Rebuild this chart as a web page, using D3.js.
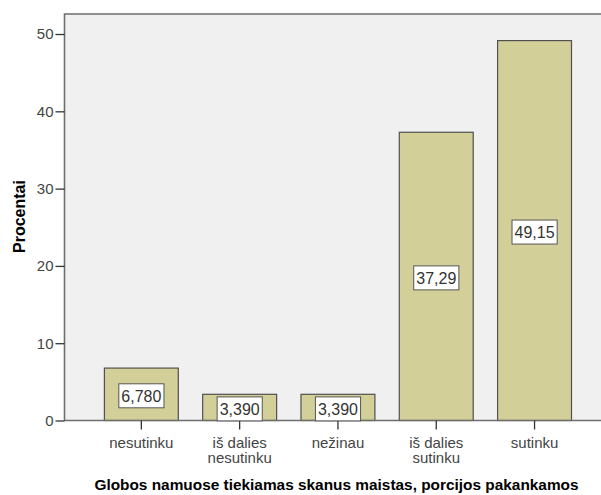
<!DOCTYPE html>
<html><head><meta charset="utf-8">
<script src="https://cdn.jsdelivr.net/npm/d3@7"></script>
<style>body{margin:0;background:#fff}svg{display:block}text{font-family:Arial,"Liberation Sans",sans-serif}</style>
</head><body>
<svg id="c" width="601" height="495"></svg>
<script>
const categories = [["nesutinku"], ["iš dalies", "nesutinku"], ["nežinau"], ["iš dalies", "sutinku"], ["sutinku"]];
const values = [6.78, 3.39, 3.39, 37.29, 49.15];
const valueLabels = ["6,780", "3,390", "3,390", "37,29", "49,15"];
const yTicks = [0, 10, 20, 30, 40, 50];
const xTitle = "Globos namuose tiekiamas skanus maistas, porcijos pakankamos";
const yTitle = "Procentai";

const svg = d3.select("#c");
const L = 64.5, R = 601, T = 14, B = 420.5;
const keys = categories.map(c => c.join(" "));
const x = d3.scaleBand().domain(keys).range([92.2, 583.7]).paddingInner(0.248).paddingOuter(0.124);
const y = d3.scaleLinear().domain([0, 52.59]).range([B, T]);

svg.append("rect").attr("x", L).attr("y", T).attr("width", R - L).attr("height", B - T).attr("fill", "#f0f0f0");

svg.selectAll("rect.bar").data(values).join("rect").attr("class", "bar")
  .attr("x", (d, i) => x(keys[i])).attr("width", x.bandwidth())
  .attr("y", d => y(d)).attr("height", d => y(0) - y(d))
  .attr("fill", "#d3cf98").attr("stroke", "#505050").attr("stroke-width", 1.2);

// frame
svg.append("path").attr("d", `M${R},${T}H${L}V${B}H${R}`).attr("fill", "none").attr("stroke", "#6e6e6e").attr("stroke-width", 1.6);

// y axis
const ya = svg.append("g").attr("transform", `translate(${L},0)`)
  .call(d3.axisLeft(y).tickValues(yTicks).tickSize(9).tickPadding(2).tickFormat(d3.format("d")));
ya.select(".domain").remove();
ya.selectAll("line").attr("stroke", "#333").attr("stroke-width", 1.3);
ya.selectAll("text").attr("font-size", 15).attr("fill", "#444").attr("font-family", "Arial, 'Liberation Sans', sans-serif");

// x axis
const xa = svg.append("g").attr("transform", `translate(0,${B})`)
  .call(d3.axisBottom(x).tickSize(9).tickFormat(""));
xa.select(".domain").remove();
xa.selectAll("line").attr("stroke", "#333").attr("stroke-width", 1.3);
xa.selectAll(".tick").each(function(d, i) {
  const t = d3.select(this).append("text").attr("fill", "#444").attr("font-size", 15).attr("text-anchor", "middle");
  categories[i].forEach((s, j) => t.append("tspan").attr("x", 0).attr("y", 27 + j * 15.5).text(s));
});

// value labels
values.forEach((v, i) => {
  const cx = x(keys[i]) + x.bandwidth() / 2, cy = (y(v) + y(0)) / 2 + 1.5;
  const g = svg.append("g").attr("transform", `translate(${cx},${cy})`);
  const t = g.append("text").attr("text-anchor", "middle").attr("dy", "0.36em").attr("font-size", 16).attr("fill", "#333").text(valueLabels[i]);
  const bb = t.node().getBBox();
  g.insert("rect", "text").attr("x", bb.x - 2.5).attr("y", -12).attr("width", bb.width + 5).attr("height", 24)
    .attr("fill", "#fff").attr("stroke", "#555").attr("stroke-width", 1);
});

svg.append("text").attr("x", 336.5).attr("y", 490).attr("text-anchor", "middle").attr("font-weight", "bold").attr("font-size", 15.4).attr("fill", "#000").text(xTitle);
svg.append("text").attr("transform", `translate(24.5,216.5) rotate(-90)`).attr("text-anchor", "middle").attr("font-weight", "bold").attr("font-size", 16).attr("fill", "#000").text(yTitle);
</script>
</body></html>
